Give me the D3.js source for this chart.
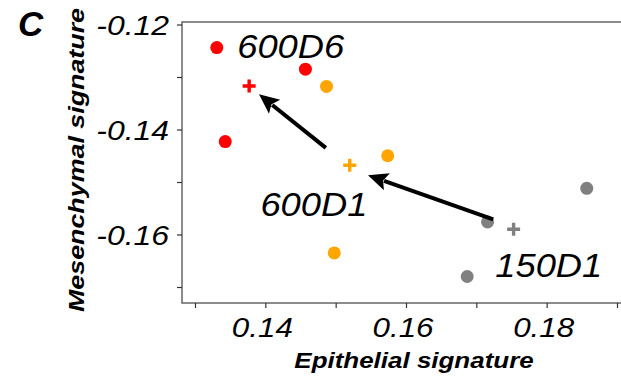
<!DOCTYPE html>
<html>
<head>
<meta charset="utf-8">
<script src="https://cdn.jsdelivr.net/npm/d3@7"></script>
<style>
  body { margin: 0; background: #fff; }
  text { font-family: "Liberation Sans", Arial, sans-serif; }
</style>
</head>
<body>
<div id="display"></div>
<script>
var colourRed = "#ff0000";
var colourOrange = "#ffa500";
var colourGrey = "#808080";

// sample groups: each replicate dot, plus the group mean (cross)
var groups = ["600D6", "600D1", "150D1"];
var groupColours = [colourRed, colourOrange, colourGrey];

var dotsX = [
  [0.1331, 0.1457, 0.1343],
  [0.1487, 0.1574, 0.1498],
  [0.1857, 0.1716, 0.1687]
];
var dotsY = [
  [-0.1244, -0.1285, -0.1423],
  [-0.1318, -0.1450, -0.1635],
  [-0.1512, -0.1576, -0.1680]
];
var meanX = [0.1377, 0.1520, 0.1753];
var meanY = [-0.1317, -0.1468, -0.1590];

// group labels, anchored at their left baseline
var labelX = [0.1360, 0.1393, 0.1727];
var labelY = [-0.1264, -0.1565, -0.1680];

// arrows: 150D1 -> 600D1 -> 600D6
var arrowFromX = [0.1724, 0.1486];
var arrowFromY = [-0.1571, -0.1435];
var arrowToX = [0.1546, 0.1391];
var arrowToY = [-0.1487, -0.1333];

var xTicks = [0.13, 0.14, 0.15, 0.16, 0.17, 0.18, 0.19];
var xTickLabels = [0.14, 0.16, 0.18];
var yTicks = [-0.12, -0.13, -0.14, -0.15, -0.16, -0.17];
var yTickLabels = [-0.12, -0.14, -0.16];

var W = 621, H = 379;
var frame = {left: 182, top: 22, bottom: 303};

var svg = d3.select("#display").append("svg")
    .attr("width", W)
    .attr("height", H);

var x = d3.scaleLinear().domain([0.13, 0.19]).range([195, 617]);
var y = d3.scaleLinear().domain([-0.12, -0.17]).range([24.5, 287]);

// frame (right side runs off the picture)
svg.append("rect")
    .attr("x", frame.left)
    .attr("y", frame.top)
    .attr("width", W + 10 - frame.left)
    .attr("height", frame.bottom - frame.top)
    .attr("fill", "none")
    .attr("stroke", "#666")
    .attr("stroke-width", 1.5);

var xAxis = svg.append("g")
    .attr("transform", "translate(0," + frame.bottom + ")")
    .call(d3.axisBottom(x).tickValues(xTicks).tickSize(5).tickFormat(""));
var yAxis = svg.append("g")
    .attr("transform", "translate(" + frame.left + ",0)")
    .call(d3.axisLeft(y).tickValues(yTicks).tickSize(5).tickFormat(""));
[xAxis, yAxis].forEach(function(a) {
  a.select(".domain").remove();
  a.selectAll(".tick line").attr("stroke", "#333").attr("stroke-width", 1.2);
});

// tick labels, slightly wide like the source figure
svg.selectAll(".xlab")
  .data(xTickLabels)
  .enter().append("text")
    .attr("transform", function(d) { return "translate(" + (x(d) - 3) + ",337) scale(1.12,1)"; })
    .attr("text-anchor", "middle")
    .attr("font-size", 28)
    .attr("font-style", "italic")
    .text(function(d) { return d.toFixed(2); });

svg.selectAll(".ylab")
  .data(yTickLabels)
  .enter().append("text")
    .attr("transform", function(d) { return "translate(169," + (y(d) + 10.5) + ") scale(1.14,1)"; })
    .attr("text-anchor", "end")
    .attr("font-size", 28)
    .attr("font-style", "italic")
    .text(function(d) { return d.toFixed(2); });

// axis titles
svg.append("text")
    .attr("transform", "translate(414,368) scale(1.18,1)")
    .attr("text-anchor", "middle")
    .attr("font-size", 22)
    .attr("font-weight", "bold")
    .attr("font-style", "italic")
    .text("Epithelial signature");

svg.append("text")
    .attr("transform", "translate(84,160) rotate(-90) scale(1.22,1)")
    .attr("text-anchor", "middle")
    .attr("font-size", 22)
    .attr("font-weight", "bold")
    .attr("font-style", "italic")
    .text("Mesenchymal signature");

// panel letter
svg.append("text")
    .attr("x", 18)
    .attr("y", 36)
    .attr("font-size", 35)
    .attr("font-weight", "bold")
    .attr("font-style", "italic")
    .text("C");

// dots
groups.forEach(function(gname, gi) {
  svg.append("g").selectAll("circle")
    .data(dotsX[gi].map(function(v, i) { return [v, dotsY[gi][i]]; }))
    .enter().append("circle")
      .attr("cx", function(d) { return x(d[0]); })
      .attr("cy", function(d) { return y(d[1]); })
      .attr("r", 6.5)
      .attr("fill", groupColours[gi]);
});

// group means as crosses
svg.append("g").selectAll("path")
  .data(groups)
  .enter().append("path")
    .attr("d", function(d, i) {
      var cx = x(meanX[i]), cy = y(meanY[i]), s = 6.5;
      return "M" + (cx - s) + "," + cy + "H" + (cx + s) + "M" + cx + "," + (cy - s) + "V" + (cy + s);
    })
    .attr("stroke", function(d, i) { return groupColours[i]; })
    .attr("stroke-width", 3.4)
    .attr("fill", "none");

// arrows
arrowFromX.forEach(function(v, i) {
  var x1 = x(v), y1 = y(arrowFromY[i]);
  var x2 = x(arrowToX[i]), y2 = y(arrowToY[i]);
  var ang = Math.atan2(y2 - y1, x2 - x1);
  var headLen = 20, headHalf = 9;
  var bx = x2 - Math.cos(ang) * (headLen - 3), by = y2 - Math.sin(ang) * (headLen - 3);
  svg.append("line")
      .attr("x1", x1).attr("y1", y1)
      .attr("x2", bx).attr("y2", by)
      .attr("stroke", "#000")
      .attr("stroke-width", 4);
  var head = [[0, 0], [-headLen, -headHalf], [-headLen + 4, 0], [-headLen, headHalf]];
  svg.append("path")
      .attr("d", "M" + head.map(function(p) { return p.join(","); }).join("L") + "Z")
      .attr("transform", "translate(" + x2 + "," + y2 + ") rotate(" + (ang * 180 / Math.PI) + ")")
      .attr("fill", "#000");
});

// group labels
svg.selectAll(".glab")
  .data(groups)
  .enter().append("text")
    .attr("transform", function(d, i) { return "translate(" + x(labelX[i]) + "," + y(labelY[i]) + ") scale(1.1,1)"; })
    .attr("font-size", 33)
    .attr("font-style", "italic")
    .text(function(d) { return d; });
</script>
</body>
</html>
